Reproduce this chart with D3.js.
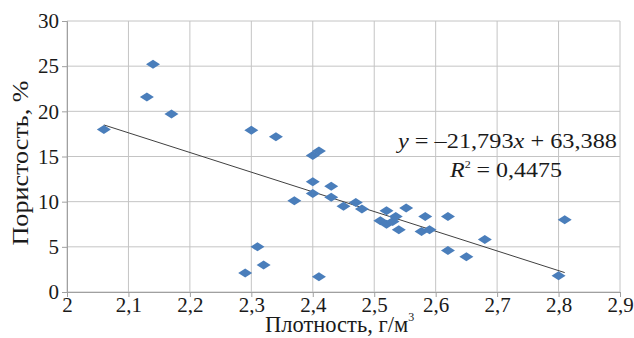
<!DOCTYPE html>
<html>
<head>
<meta charset="utf-8">
<script src="https://cdn.jsdelivr.net/npm/d3@7"></script>
<style>
  body { margin: 0; background: #fff; }
  svg text { font-family: "Liberation Serif", "Times New Roman", "DejaVu Serif", serif; fill: #1a1a1a; }
</style>
</head>
<body>
<script>
// density, g/m3
const density = [2.06, 2.13, 2.14, 2.17, 2.30, 2.34, 2.40, 2.41, 2.40, 2.40,
  2.37, 2.43, 2.43, 2.45, 2.47, 2.48, 2.52, 2.51, 2.52, 2.53,
  2.535, 2.54, 2.552, 2.583, 2.577, 2.59, 2.62, 2.62, 2.65, 2.68,
  2.80, 2.81, 2.41, 2.29, 2.31, 2.32];
// porosity, %
const porosity = [18.0, 21.6, 25.2, 19.7, 17.9, 17.2, 15.1, 15.6, 12.2, 10.9,
  10.1, 11.7, 10.5, 9.5, 9.9, 9.2, 9.0, 7.9, 7.5, 7.8,
  8.35, 6.9, 9.3, 8.35, 6.7, 6.9, 8.35, 4.6, 3.9, 5.8,
  1.8, 8.0, 1.7, 2.1, 5.0, 3.0];
const xTicks = [2, 2.1, 2.2, 2.3, 2.4, 2.5, 2.6, 2.7, 2.8, 2.9];
const yTicks = [0, 5, 10, 15, 20, 25, 30];
const slope = -21.793, intercept = 63.388;

const width = 634, height = 338;
const margin = {left: 67, right: 14, top: 21, bottom: 46};
const serif = '"Liberation Serif", "Times New Roman", "DejaVu Serif", serif';

const svg = d3.select('body').append('svg')
  .attr('width', width)
  .attr('height', height);

const x = d3.scaleLinear().domain([2, 2.9]).range([margin.left, width - margin.right]);
const y = d3.scaleLinear().domain([0, 30]).range([height - margin.bottom, margin.top]);

const fmt = d => d3.format('.1~f')(d).replace('.', ',');

// grid
svg.append('g')
  .selectAll('line')
  .data(yTicks)
  .enter().append('line')
  .attr('x1', x(2)).attr('x2', x(2.9))
  .attr('y1', d => y(d)).attr('y2', d => y(d))
  .attr('stroke', '#c4c4c4').attr('stroke-width', 1);

svg.append('g')
  .selectAll('line')
  .data(xTicks)
  .enter().append('line')
  .attr('x1', d => x(d)).attr('x2', d => x(d))
  .attr('y1', y(0)).attr('y2', y(30))
  .attr('stroke', '#c4c4c4').attr('stroke-width', 1);

// axes
const xAxis = d3.axisBottom(x).tickValues(xTicks).tickFormat(fmt).tickSize(5).tickPadding(0);
const yAxis = d3.axisLeft(y).tickValues(yTicks).tickSize(5).tickPadding(3);

const gx = svg.append('g')
  .attr('transform', `translate(0,${y(0)})`)
  .call(xAxis);
const gy = svg.append('g')
  .attr('transform', `translate(${x(2)},0)`)
  .call(yAxis);

[gx, gy].forEach(g => {
  g.attr('font-family', serif).attr('font-size', 21);
  g.select('.domain').attr('stroke', '#a0a0a0');
  g.selectAll('.tick line').attr('stroke', '#a0a0a0');
  g.selectAll('.tick text').attr('fill', '#1a1a1a');
});

// trend line
const xMin = d3.min(density), xMax = d3.max(density);
svg.append('line')
  .attr('x1', x(xMin)).attr('y1', y(slope * xMin + intercept))
  .attr('x2', x(xMax)).attr('y2', y(slope * xMax + intercept))
  .attr('stroke', '#404040').attr('stroke-width', 1);

// points
const diamond = 'M0,-4.5L7,0L0,4.5L-7,0Z';
svg.append('g')
  .selectAll('path')
  .data(density.map((d, i) => [d, porosity[i]]))
  .enter().append('path')
  .attr('d', diamond)
  .attr('transform', d => `translate(${x(d[0])},${y(d[1])})`)
  .attr('fill', '#4a7ebb');

// equation
const eq = svg.append('text')
  .attr('x', 398).attr('y', 148)
  .attr('textLength', 219)
  .attr('lengthAdjust', 'spacingAndGlyphs')
  .style('font-size', '22px');
eq.append('tspan').style('font-style', 'italic').text('y');
eq.append('tspan').text(' = –21,793');
eq.append('tspan').style('font-style', 'italic').text('x');
eq.append('tspan').text(' + 63,388');

const r2 = svg.append('text')
  .attr('x', 450).attr('y', 177)
  .attr('textLength', 112)
  .attr('lengthAdjust', 'spacingAndGlyphs')
  .style('font-size', '22px');
r2.append('tspan').style('font-style', 'italic').text('R');
r2.append('tspan').attr('dy', -9).style('font-size', '11px').text('2');
r2.append('tspan').attr('dy', 9).text(' = 0,4475');

// axis titles
const xt = svg.append('text')
  .attr('x', 265).attr('y', 332)
  .style('font-size', '22.5px');
xt.append('tspan').text('Плотность, г/м');
xt.append('tspan').attr('dy', -11).style('font-size', '12px').text('3');

svg.append('text')
  .attr('transform', `translate(28,163) rotate(-90)`)
  .attr('text-anchor', 'middle')
  .attr('textLength', 165)
  .attr('lengthAdjust', 'spacingAndGlyphs')
  .style('font-size', '23px')
  .text('Пористость, %');
</script>
</body>
</html>
